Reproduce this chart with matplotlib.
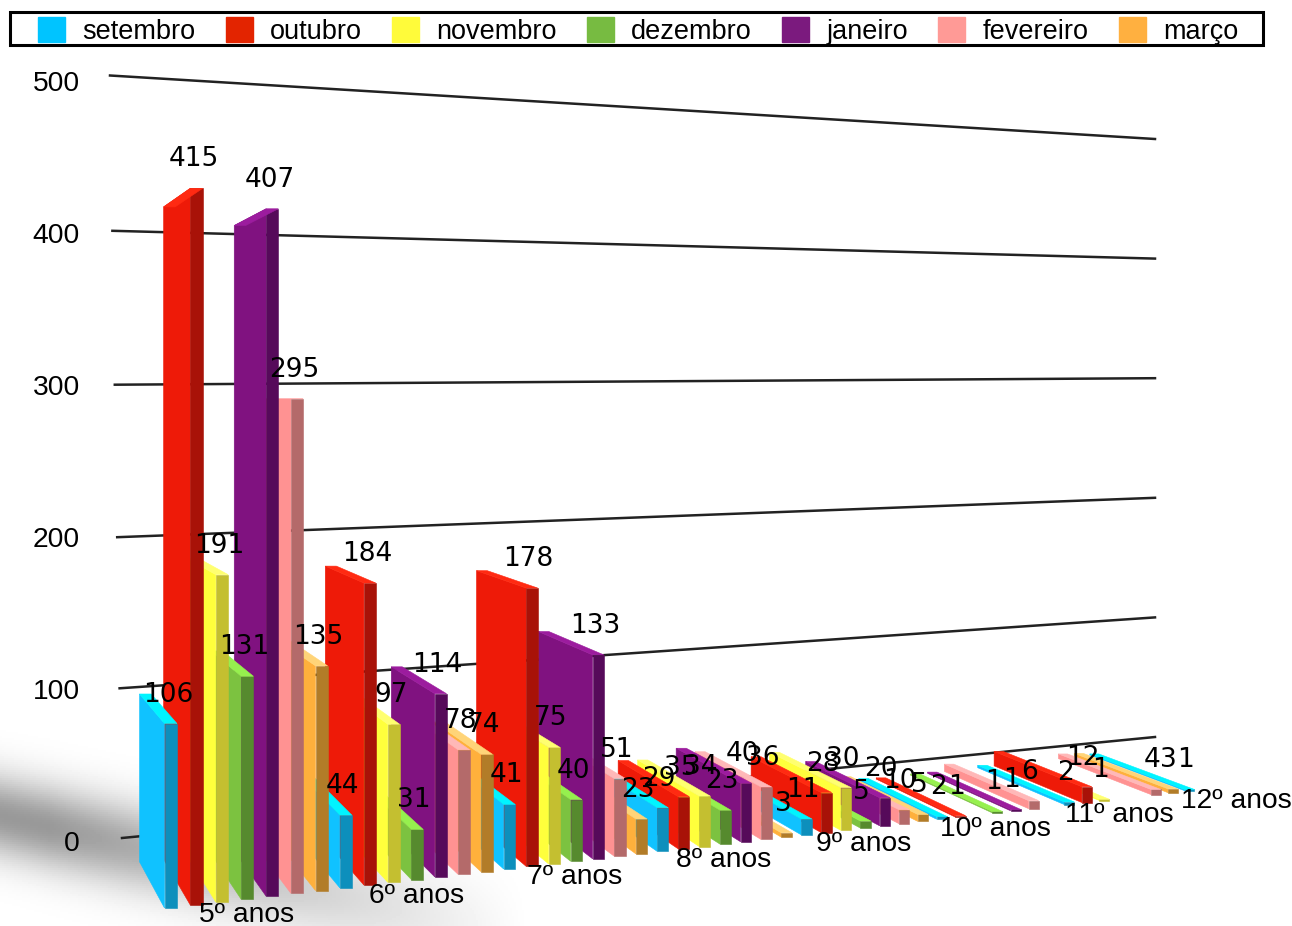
import numpy as np
import matplotlib
matplotlib.use("Agg")
import matplotlib.pyplot as plt
from matplotlib.patches import Patch, Rectangle

anos = ["5º anos", "6º anos", "7º anos", "8º anos", "9º anos", "10º anos", "11º anos", "12º anos"]
meses = ["setembro", "outubro", "novembro", "dezembro", "janeiro", "fevereiro", "março"]

setembro = [106, 44, 41, 29, 11, 2, 2, 1]
outubro = [415, 184, 178, 35, 28, 1, 12, 0]
novembro = [191, 97, 75, 34, 30, 0, 1, 0]
dezembro = [131, 31, 40, 23, 5, 1, 0, 0]
janeiro = [407, 114, 133, 40, 20, 1, 0, 0]
fevereiro = [295, 78, 51, 36, 10, 6, 4, 0]
marco = [135, 74, 23, 3, 5, 0, 3, 0]
series = [setembro, outubro, novembro, dezembro, janeiro, fevereiro, marco]

escala = [0, 100, 200, 300, 400, 500]

# lado, frente, topo
cores = [
    ("#10c2ff", "#0d8fbc", "#00f4ff"),
    ("#ee1a08", "#a81208", "#ff2a12"),
    ("#ffff3c", "#c4bf30", "#ffff70"),
    ("#7cc240", "#568a2e", "#96f04e"),
    ("#801280", "#560a5a", "#9c1c9e"),
    ("#ff9292", "#b46a6a", "#ffb8b8"),
    ("#ffb03c", "#b27c28", "#ffd478"),
]
legenda_cores = ["#00c4ff", "#e32400", "#fffb3a", "#77bb41", "#7b1a7e", "#ff9a96", "#ffb040"]

# perspectiva em pixels da imagem
VX, RX = -200.0, 0.0685
VY, RY = 395.0, 0.09


def frente(t):
    wx = 1 + 0.005 * t
    return 177 + 25.85 * t / wx, 908 - 2.98 * t / wx


def px_valor(t):
    return 1.74 / (1 + 0.0075 * t)


def fundo(p):
    return (p[0] + RX * (VX - p[0]), p[1] + RY * (VY - p[1]))


def desenha_barra(ax, t, v, cor):
    x, y = frente(t)
    larg = 12.5 / (1 + 0.006 * t)
    topo = y - v * px_valor(t)
    fl, fr = (x - larg, y), (x, y)
    tl, tr = (x - larg, topo), (x, topo)
    lado = [fl, fundo(fl), fundo(tl), tl]
    cara = [fl, fr, tr, tl]
    cima = [tl, tr, fundo(tr), fundo(tl)]
    for poly, c in zip([lado, cara, cima], cor):
        xs, ys = zip(*poly)
        ax.fill(xs, ys, facecolor=c, edgecolor=c, linewidth=0.4, zorder=3)
    return x, topo


fig = plt.figure(figsize=(12.92, 9.26), dpi=100)
ax = fig.add_axes([0, 0, 1, 1])

# sombra no chao
gx, gy = np.meshgrid(np.arange(0, 1292, 2), np.arange(700, 926, 2))
centro = 815 + 0.23 * gx
sombra = 0.40 * np.exp(-((gy - centro) / (40 + 0.02 * gx)) ** 2) * np.clip(1.1 - gx / 480, 0, 1)
ax.imshow(1 - sombra, cmap="gray", vmin=0, vmax=1, extent=(0, 1292, 926, 700), zorder=0, aspect="auto")

ax.set_xlim(0, 1292)
ax.set_ylim(926, 0)
ax.axis("off")

# linhas da escala
for v in escala:
    ax.plot([122 - 0.024 * v, 1155], [838 - 1.49 * v - 0.00007 * v ** 2, 737 - 1.196 * v],
            color="#222222", lw=1.8, zorder=1)
    ax.text(80, 844 - 1.52 * v, str(v), ha="right", va="center", family="Liberation Sans", fontsize=20.3, color="black")

# das barras do fundo para a frente
rotulos = []
for g in range(len(anos) - 1, -1, -1):
    for m in range(len(meses) - 1, -1, -1):
        v = series[m][g]
        if v == 0:
            continue
        t = 7 * g + m
        x, topo = desenha_barra(ax, t, v, cores[m])
        rotulos.append((x - 9, topo - 29, str(v)))

for x, y, txt in rotulos:
    ax.text(x, y, txt, ha="center", va="center", family="DejaVu Sans", fontsize=19, color="black", zorder=5)

for g, nome in enumerate(anos):
    x, y = frente(7 * g + 3)
    ax.text(x - 7, y + 16, nome, ha="center", va="center", family="Liberation Sans", fontsize=20.3, color="black", zorder=5)

# legenda
ax.add_patch(Rectangle((10, 12), 1253, 33, facecolor="white", edgecolor="black", lw=2.2, zorder=6))
handles = [Patch(facecolor=c, edgecolor=c) for c in legenda_cores]
leg = ax.legend(handles, meses, ncol=7, frameon=False, loc="center left", bbox_to_anchor=(38 / 1292, 1 - 31 / 926),
                borderaxespad=0, borderpad=0, handlelength=1.0, handleheight=1.0, handletextpad=0.62,
                columnspacing=1.13, prop={"family": "Liberation Sans", "size": 19.5})
leg.set_zorder(7)

fig.savefig("out.png", dpi=100)
